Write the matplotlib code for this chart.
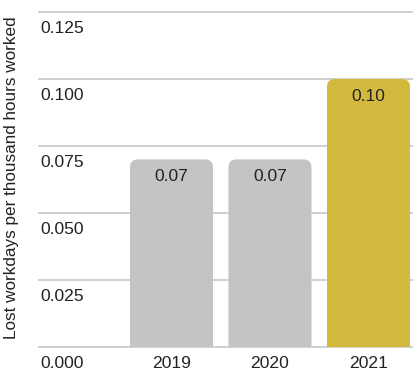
import matplotlib.pyplot as plt
from matplotlib.patches import FancyBboxPatch

plt.rcParams["font.family"] = ["Liberation Sans", "DejaVu Sans"]

years = ["2019", "2020", "2021"]
values = [0.07, 0.07, 0.10]
value_labels = ["0.07", "0.07", "0.10"]
colors = ["#c4c4c4", "#c4c4c4", "#d4b93f"]
yticks = [0.0, 0.025, 0.05, 0.075, 0.1, 0.125]

W, H = 414, 372
fig = plt.figure(figsize=(W / 100, H / 100), dpi=100)
left, right, top, bottom = 39, 414, 12, 347
ax = fig.add_axes([left / W, 1 - bottom / H, (right - left) / W, (bottom - top) / H])

xlim = (-1.345, 2.462)
ylim = (0, 0.125)
ax.set_xlim(*xlim)
ax.set_ylim(*ylim)

# px per data unit, for rounding the bar tops evenly
px_x = (right - left) / (xlim[1] - xlim[0])
px_y = (bottom - top) / (ylim[1] - ylim[0])
r_px = 8
width = 0.843

for tick in yticks:
    ax.axhline(tick, color="#d0d0d0", lw=1.4, zorder=1, clip_on=False)
    ax.annotate(f"{tick:.3f}", xy=(0.003, tick), xycoords=("axes fraction", "data"),
                xytext=(0, -6.5), textcoords="offset points", ha="left", va="top",
                fontsize=12.6, color="#222222", annotation_clip=False)

for i, (v, c, lab) in enumerate(zip(values, colors, value_labels)):
    patch = FancyBboxPatch((i - width / 2, -0.02), width, v + 0.02,
                           boxstyle=f"round,pad=0,rounding_size={r_px / px_x}",
                           mutation_aspect=px_x / px_y, fc=c, ec="none", zorder=2)
    ax.add_patch(patch)
    ax.annotate(lab, xy=(i, v), xytext=(0, -7), textcoords="offset points",
                ha="center", va="top", fontsize=12.6, color="#222222", zorder=3)

ax.set_xticks(range(len(years)), years)
ax.set_yticks([])
ax.tick_params(axis="x", length=0, pad=6.5, labelsize=12.6, labelcolor="#222222")
for s in ax.spines.values():
    s.set_visible(False)

fig.text(12 / W, 1 - 178 / H, "Lost workdays per thousand hours worked",
         rotation=90, ha="center", va="center", fontsize=12.3, color="#222222")

fig.savefig("out.png", dpi=100)
